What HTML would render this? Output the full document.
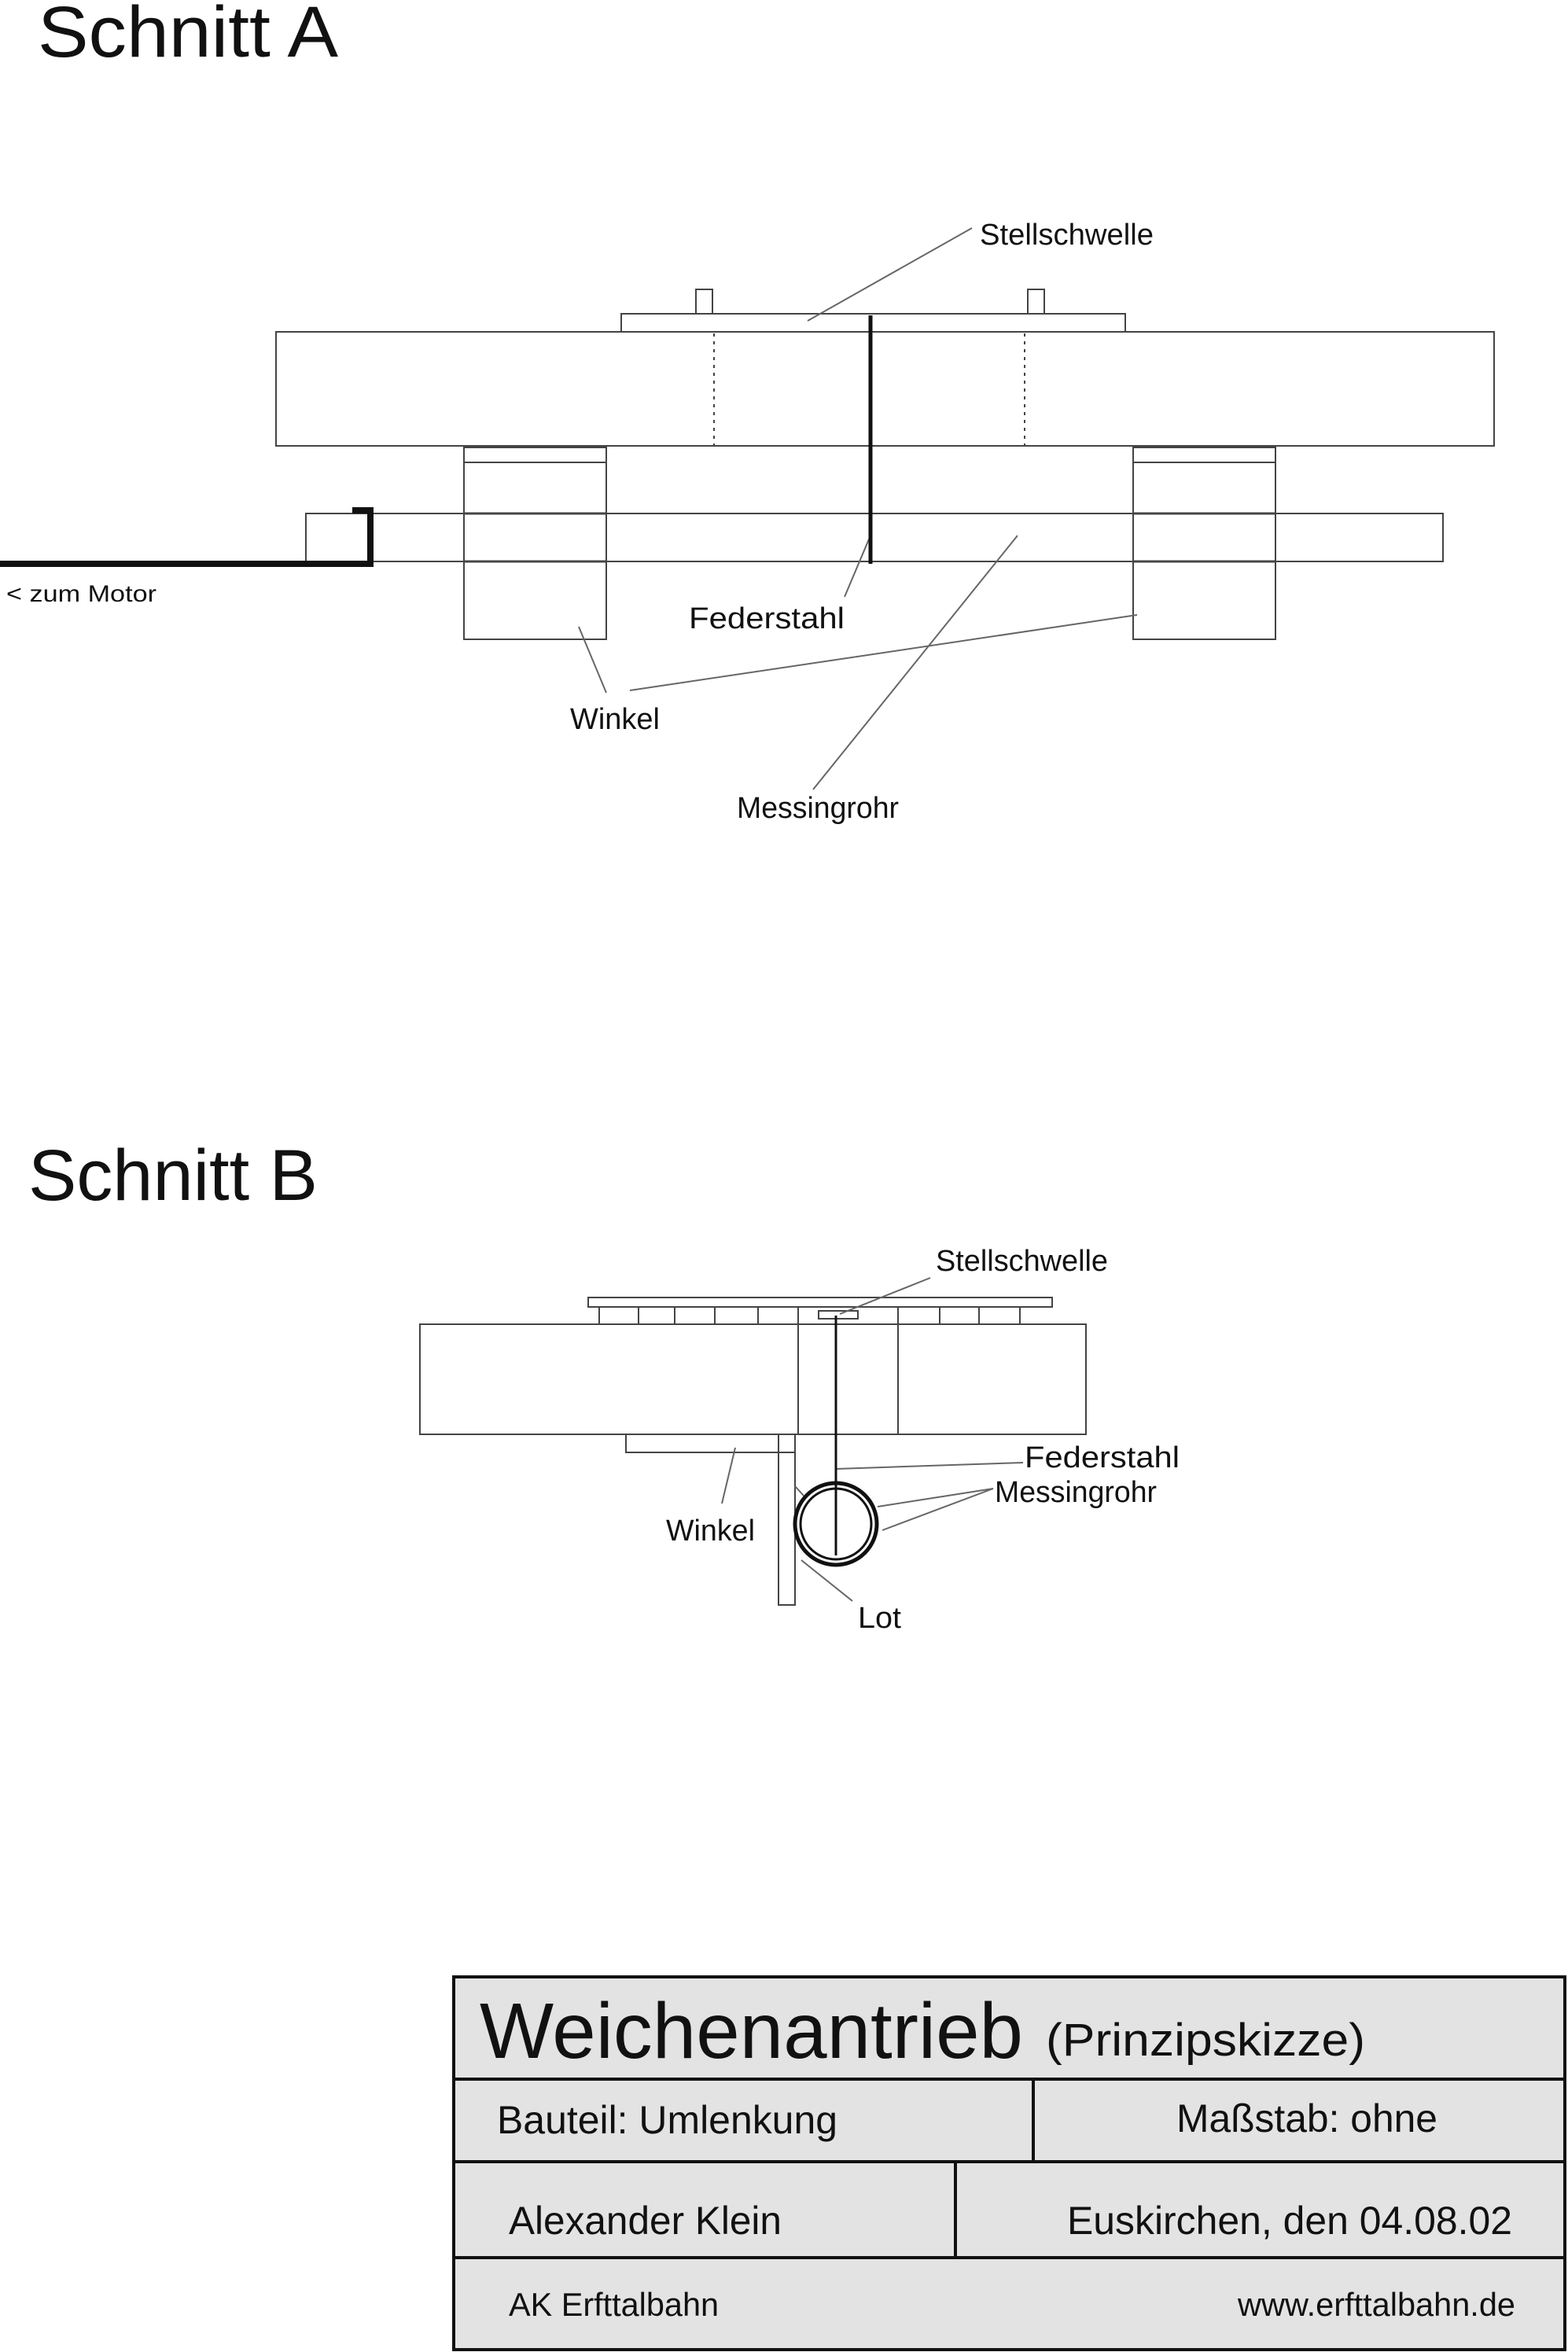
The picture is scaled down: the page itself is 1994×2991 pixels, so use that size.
<!DOCTYPE html>
<html><head><meta charset="utf-8"><style>html,body{margin:0;padding:0;background:#fff}svg{display:block}</style></head>
<body>
<svg width="1994" height="2991" viewBox="0 0 1994 2991" xmlns="http://www.w3.org/2000/svg" font-family="Liberation Sans, sans-serif" fill="#111">
<g fill="none" stroke="#444" stroke-width="2">
<!-- Schnitt A -->
<rect x="351" y="422" width="1549" height="145"/>
<rect x="790" y="399" width="641" height="23"/>
<rect x="885" y="368" width="21" height="31"/>
<rect x="1307" y="368" width="21" height="31"/>
<line x1="908" y1="424" x2="908" y2="567" stroke-dasharray="4,6"/>
<line x1="1303" y1="424" x2="1303" y2="567" stroke-dasharray="4,6"/>
<rect x="389" y="653" width="1446" height="61"/>
<rect x="590" y="569" width="181" height="244"/>
<line x1="590" y1="588" x2="771" y2="588"/>
<line x1="590" y1="653" x2="771" y2="653" stroke-width="3"/>
<line x1="590" y1="714" x2="771" y2="714" stroke-width="3"/>
<rect x="1441" y="569" width="181" height="244"/>
<line x1="1441" y1="588" x2="1622" y2="588"/>
<line x1="1441" y1="653" x2="1622" y2="653" stroke-width="3"/>
<line x1="1441" y1="714" x2="1622" y2="714" stroke-width="3"/>
<line x1="1236" y1="290" x2="1027" y2="408" stroke="#666"/>
<line x1="1074" y1="759" x2="1107" y2="681" stroke="#666"/>
<line x1="771" y1="881" x2="736" y2="797" stroke="#666"/>
<line x1="801" y1="878" x2="1446" y2="782" stroke="#666"/>
<line x1="1034" y1="1004" x2="1294" y2="681" stroke="#666"/>
</g>
<line x1="1107" y1="401" x2="1107" y2="717" stroke="#111" stroke-width="5"/>
<polyline points="0,717 471,717 471,649 448,649" fill="none" stroke="#111" stroke-width="8"/>
<g font-size="92"><text x="48" y="72" textLength="382" lengthAdjust="spacingAndGlyphs">Schnitt A</text>
<text x="36" y="1526" textLength="368" lengthAdjust="spacingAndGlyphs">Schnitt B</text></g>
<g font-size="38">
<text x="1246" y="311" textLength="221" lengthAdjust="spacingAndGlyphs">Stellschwelle</text>
<text x="876" y="799" textLength="198" lengthAdjust="spacingAndGlyphs">Federstahl</text>
<text x="725" y="927" textLength="114" lengthAdjust="spacingAndGlyphs">Winkel</text>
<text x="937" y="1040" textLength="206" lengthAdjust="spacingAndGlyphs">Messingrohr</text>
<text x="1190" y="1616" textLength="219" lengthAdjust="spacingAndGlyphs">Stellschwelle</text>
<text x="1303" y="1866" textLength="197" lengthAdjust="spacingAndGlyphs">Federstahl</text>
<text x="1265" y="1910" textLength="206" lengthAdjust="spacingAndGlyphs">Messingrohr</text>
<text x="847" y="1959" textLength="113" lengthAdjust="spacingAndGlyphs">Winkel</text>
<text x="1091" y="2070" textLength="55" lengthAdjust="spacingAndGlyphs">Lot</text>
</g>
<text x="8" y="765" font-size="30" textLength="191" lengthAdjust="spacingAndGlyphs">&lt; zum Motor</text>
<!-- Schnitt B -->
<g fill="none" stroke="#444" stroke-width="2">
<rect x="748" y="1650" width="590" height="12"/>
<rect x="762" y="1662" width="535" height="22"/>
<line x1="812" y1="1662" x2="812" y2="1684"/><line x1="858" y1="1662" x2="858" y2="1684"/>
<line x1="909" y1="1662" x2="909" y2="1684"/><line x1="964" y1="1662" x2="964" y2="1684"/>
<line x1="1195" y1="1662" x2="1195" y2="1684"/><line x1="1245" y1="1662" x2="1245" y2="1684"/>
<rect x="1041" y="1667" width="50" height="10"/>
<rect x="534" y="1684" width="847" height="140"/>
<line x1="1015" y1="1662" x2="1015" y2="1824"/>
<line x1="1142" y1="1662" x2="1142" y2="1824"/>
<rect x="796" y="1824" width="215" height="23"/>
<rect x="990" y="1824" width="21" height="217"/>
<line x1="1183" y1="1625" x2="1068" y2="1671" stroke="#666"/>
<line x1="1301" y1="1860" x2="1063" y2="1868" stroke="#666"/>
<line x1="1263" y1="1893" x2="1116" y2="1916" stroke="#666"/>
<line x1="1263" y1="1893" x2="1122" y2="1946" stroke="#666"/>
<line x1="918" y1="1912" x2="935" y2="1841" stroke="#666"/>
<line x1="1084" y1="2036" x2="1019" y2="1984" stroke="#666"/>
<line x1="1011" y1="1890" x2="1022" y2="1902" stroke="#666"/>
</g>
<line x1="1063" y1="1673" x2="1063" y2="1978" stroke="#111" stroke-width="3"/>
<ellipse cx="1063" cy="1938" rx="52" ry="52" fill="none" stroke="#111" stroke-width="5"/>
<ellipse cx="1063" cy="1938" rx="45" ry="45" fill="none" stroke="#111" stroke-width="3"/>
<!-- Title block -->
<g stroke="#111" stroke-width="4">
<rect x="577" y="2514" width="1413" height="474" fill="#e3e3e3"/>
<line x1="577" y1="2644" x2="1990" y2="2644"/>
<line x1="577" y1="2749" x2="1990" y2="2749"/>
<line x1="577" y1="2871" x2="1990" y2="2871"/>
<line x1="1314" y1="2644" x2="1314" y2="2749"/>
<line x1="1215" y1="2749" x2="1215" y2="2871"/>
</g>
<text x="610" y="2617" font-size="100" textLength="691" lengthAdjust="spacingAndGlyphs">Weichenantrieb</text>
<text x="1330" y="2614" font-size="58" textLength="406" lengthAdjust="spacingAndGlyphs">(Prinzipskizze)</text>
<g font-size="50">
<text x="632" y="2713" textLength="433" lengthAdjust="spacingAndGlyphs">Bauteil: Umlenkung</text>
<text x="1496" y="2711" textLength="332" lengthAdjust="spacingAndGlyphs">Maßstab: ohne</text>
<text x="647" y="2841" textLength="347" lengthAdjust="spacingAndGlyphs">Alexander Klein</text>
<text x="1357" y="2841" textLength="566" lengthAdjust="spacingAndGlyphs">Euskirchen, den 04.08.02</text>
</g>
<g font-size="42">
<text x="647" y="2945" textLength="267" lengthAdjust="spacingAndGlyphs">AK Erfttalbahn</text>
<text x="1574" y="2945" textLength="353" lengthAdjust="spacingAndGlyphs">www.erfttalbahn.de</text>
</g>
</svg>
</body></html>
